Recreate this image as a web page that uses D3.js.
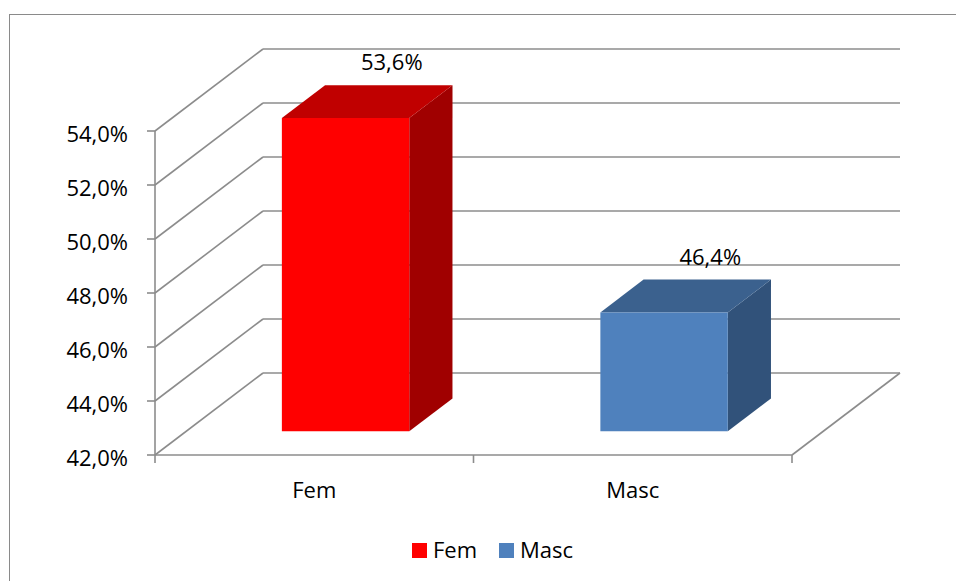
<!DOCTYPE html>
<html><head><meta charset="utf-8">
<script src="https://cdn.jsdelivr.net/npm/d3@7/dist/d3.min.js"></script>
<style>
html,body{margin:0;padding:0;background:#fff;}
svg{display:block;font-family:"Open Sans",sans-serif;}
</style></head>
<body><svg id="c" width="956" height="581"></svg>
<script>
const categories = ["Fem", "Masc"];
const values = [0.536, 0.464];
const yTicks = [0.42, 0.44, 0.46, 0.48, 0.50, 0.52, 0.54];
const frontColors = ["#FF0000", "#4F81BD"];
const topColors = ["#C00000", "#3B618E"];
const sideColors = ["#A00000", "#31527A"];

const locale = d3.formatLocale({decimal: ",", thousands: ".", grouping: [3], currency: ["", ""]});
const fmt = locale.format(".1%");

const svg = d3.select("#c");
const FS = 22;
const depth = {dx: 108, dy: -82};
const z1 = 0.29, z2 = 0.69;
const y = d3.scaleLinear().domain([0.42, 0.54]).range([455, 131]);
const x = d3.scaleBand().domain(categories).range([155, 792]).paddingInner(0).paddingOuter(0);
const P = (px, v, z) => [px + z * depth.dx, y(v) + z * depth.dy];
const grid = "#8c8c8c";

// outer border
svg.append("rect").attr("x", 9.5).attr("y", 14.5).attr("width", 980).attr("height", 600)
  .attr("fill", "none").attr("stroke", "#8a8a8a").attr("stroke-width", 1);

const g = svg.append("g");
const x0 = x.range()[0], x1 = x.range()[1];
// back wall gridlines and side wall diagonals
yTicks.forEach(t => {
  const a = P(x0, t, 1), b = P(x1, t, 1), f = P(x0, t, 0);
  g.append("line").attr("x1", a[0]).attr("y1", a[1]).attr("x2", b[0]).attr("y2", b[1])
    .attr("stroke", grid).attr("stroke-width", 1.6);
  g.append("line").attr("x1", f[0]).attr("y1", f[1]).attr("x2", a[0]).attr("y2", a[1])
    .attr("stroke", grid).attr("stroke-width", 1.6);
});
// floor right diagonal
{
  const a = P(x1, 0.42, 0), b = P(x1, 0.42, 1);
  g.append("line").attr("x1", a[0]).attr("y1", a[1]).attr("x2", b[0]).attr("y2", b[1])
    .attr("stroke", grid).attr("stroke-width", 1.6);
}
// y axis line
g.append("line").attr("x1", x0).attr("x2", x0).attr("y1", y(0.42)).attr("y2", y(0.54))
  .attr("stroke", grid).attr("stroke-width", 1.6);
// front floor line (category axis)
g.append("line").attr("x1", x0).attr("x2", x1).attr("y1", y(0.42)).attr("y2", y(0.42))
  .attr("stroke", grid).attr("stroke-width", 1.6);
// y ticks & labels
yTicks.forEach(t => {
  g.append("line").attr("x1", x0 - 8).attr("x2", x0).attr("y1", y(t)).attr("y2", y(t))
    .attr("stroke", grid).attr("stroke-width", 1.6);
  g.append("text").attr("x", x0 - 27).attr("y", y(t) + 11)
    .attr("text-anchor", "end").attr("font-size", FS).attr("fill", "#000").text(fmt(t));
});
// category ticks
[x0, ...categories.map(c => x(c) + x.bandwidth())].forEach(px => {
  g.append("line").attr("x1", px).attr("x2", px).attr("y1", y(0.42)).attr("y2", y(0.42) + 8)
    .attr("stroke", grid).attr("stroke-width", 1.6);
});
categories.forEach(c => {
  g.append("text").attr("x", x(c) + x.bandwidth() / 2).attr("y", 498)
    .attr("text-anchor", "middle").attr("font-size", FS).attr("fill", "#000").text(c);
});

// bars
const bw = x.bandwidth() * 0.4;
categories.forEach((c, i) => {
  const v = values[i];
  const L = x(c) + (x.bandwidth() - bw) / 2, R = L + bw;
  const poly = pts => pts.map(p => p.join(",")).join(" ");
  const fbl = P(L, 0.42, z1), fbr = P(R, 0.42, z1), ftr = P(R, v, z1), ftl = P(L, v, z1);
  const bbr = P(R, 0.42, z2), btr = P(R, v, z2), btl = P(L, v, z2);
  g.append("polygon").attr("points", poly([fbr, bbr, btr, ftr])).attr("fill", sideColors[i]);
  g.append("polygon").attr("points", poly([ftl, ftr, btr, btl])).attr("fill", topColors[i]);
  g.append("polygon").attr("points", poly([fbl, fbr, ftr, ftl])).attr("fill", frontColors[i]);
  const lab = P((L + R) / 2, v, z2);
  g.append("text").attr("x", lab[0] + 3).attr("y", lab[1] - 15)
    .attr("text-anchor", "middle").attr("font-size", FS).attr("fill", "#000").text(fmt(v));
});

// legend
const lg = svg.append("g");
const legX = [412, 499];
categories.forEach((c, i) => {
  lg.append("rect").attr("x", legX[i]).attr("y", 543).attr("width", 15).attr("height", 15).attr("fill", frontColors[i]);
  lg.append("text").attr("x", legX[i] + 21).attr("y", 558).attr("font-size", FS).attr("fill", "#000").text(c);
});
</script></body></html>
